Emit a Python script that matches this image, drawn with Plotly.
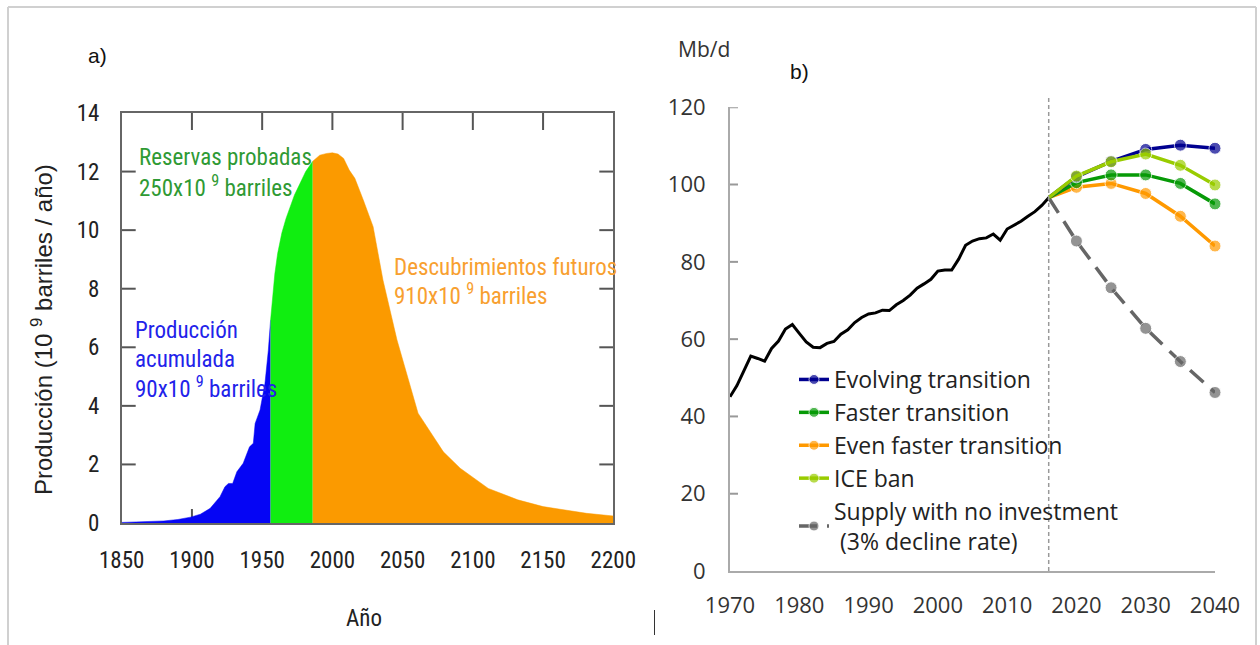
import plotly.graph_objects as go

W, H = 1260, 645

# ---------------- Panel a) data ----------------
blue_years = [1850, 1870, 1880, 1890, 1899, 1906, 1913, 1920, 1923.5, 1926, 1929, 1932,
              1936.5, 1941, 1943.7, 1945, 1948.5, 1952, 1954.4, 1956]
blue_vals = [0.02, 0.04, 0.07, 0.12, 0.2, 0.3, 0.5, 0.9, 1.24, 1.35, 1.35, 1.75,
             2.04, 2.6, 2.72, 3.4, 3.86, 4.77, 5.9, 6.93]

green_years = [1956, 1958, 1959, 1961, 1964, 1967, 1970, 1973, 1977, 1981, 1986]
green_vals = [6.93, 8.0, 8.5, 9.2, 9.9, 10.4, 10.8, 11.2, 11.6, 12.0, 12.35]

orange_years = [1986, 1991, 1996, 2000, 2004, 2008, 2012, 2016, 2022, 2029, 2036, 2046,
                2061, 2079, 2091, 2111, 2132, 2150, 2181, 2200]
orange_vals = [12.35, 12.56, 12.62, 12.64, 12.6, 12.45, 12.05, 11.77, 11.03, 10.12, 8.3,
               6.25, 3.75, 2.43, 1.87, 1.18, 0.79, 0.56, 0.33, 0.24]

a_xticks = [1850, 1900, 1950, 2000, 2050, 2100, 2150, 2200]
a_yticks = [0, 2, 4, 6, 8, 10, 12, 14]

# ---------------- Panel b) data ----------------
hist_years = list(range(1970, 2017))
hist_vals = [45.1, 48.0, 51.8, 55.6, 55.0, 54.3, 57.6, 59.5, 62.6, 63.8,
             61.5, 59.3, 57.9, 57.8, 58.9, 59.4, 61.3, 62.4, 64.3, 65.6,
             66.5, 66.8, 67.5, 67.4, 68.9, 70.0, 71.4, 73.2, 74.3, 75.5,
             77.6, 77.9, 77.9, 80.7, 84.3, 85.4, 86.0, 86.2, 87.2, 85.6,
             88.5, 89.5, 90.5, 91.8, 93.0, 94.6, 96.6]

proj_years = [2016, 2020, 2025, 2030, 2035, 2040]
evolving = [96.6, 102.0, 106.0, 109.1, 110.2, 109.4]
faster = [96.6, 100.5, 102.5, 102.5, 100.3, 95.0]
even_faster = [96.6, 99.3, 100.3, 97.7, 91.8, 84.1]
ice_ban = [96.6, 102.2, 105.9, 107.9, 105.0, 99.9]
no_invest = [96.6, 85.4, 73.3, 62.8, 54.2, 46.2]

b_xticks = [1970, 1980, 1990, 2000, 2010, 2020, 2030, 2040]
b_yticks = [0, 20, 40, 60, 80, 100, 120]
split_year = 2016


def px_x(p):
    return p / W


def px_y(p):
    return 1 - p / H


NARROW = "Liberation Sans Narrow, Arial Narrow, Roboto Condensed, sans-serif"
SANS = "Liberation Sans, Arial, sans-serif"
OPEN = "Open Sans, Noto Sans, sans-serif"

A_L, A_R, A_T, A_B = 121.7, 613.3, 113, 523
B_L, B_R, B_T, B_B = 730, 1215, 107.3, 571

fig = go.Figure()

# Panel a) filled areas
for xs, ys, col in [(blue_years, blue_vals, "#0505f5"),
                    (green_years, green_vals, "#10ee10"),
                    (orange_years, orange_vals, "#fb9a00")]:
    fig.add_trace(go.Scatter(x=xs, y=ys, mode="lines", fill="tozeroy",
                             fillcolor=col, line=dict(width=0.5, color=col),
                             showlegend=False, hoverinfo="skip",
                             xaxis="x", yaxis="y"))

# Panel b) history line
fig.add_trace(go.Scatter(x=hist_years, y=hist_vals, mode="lines",
                         line=dict(color="black", width=3),
                         showlegend=False, xaxis="x2", yaxis="y2"))

sizes = [0, 12, 12, 12, 12, 12]
series = [
    ("Supply with no investment<br> (3% decline rate)", no_invest, "#666666", "18px,10px", 5),
    ("Even faster transition", even_faster, "#ff9900", "solid", 3),
    ("Faster transition", faster, "#079a07", "solid", 2),
    ("Evolving transition", evolving, "#000090", "solid", 1),
    ("ICE ban", ice_ban, "#99cc00", "solid", 4),
]
for name, vals, col, dash, rank in series:
    fig.add_trace(go.Scatter(x=proj_years, y=vals, mode="lines+markers", name=name,
                             line=dict(color=col, width=3.5, dash=dash),
                             marker=dict(color=col, size=sizes),
                             legendrank=rank, cliponaxis=False,
                             xaxis="x2", yaxis="y2"))

axis_a = dict(showgrid=False, zeroline=False, showline=True, linecolor="#666",
              linewidth=1.5, ticks="", mirror=True, layer="below traces",
              automargin=False,
              tickfont=dict(family=NARROW, size=23, color="#222"))

fig.update_layout(
    width=W, height=H, margin=dict(l=0, r=0, t=0, b=0, pad=0, autoexpand=False),
    paper_bgcolor="white", plot_bgcolor="rgba(0,0,0,0)",
    xaxis=dict(axis_a, domain=[px_x(A_L), px_x(A_R)], range=[1850, 2200],
               tickvals=a_xticks, anchor="y", ticklabelstandoff=16),
    yaxis=dict(axis_a, domain=[px_y(A_B), px_y(A_T)], range=[0, 14],
               tickvals=a_yticks, anchor="x", ticklabelstandoff=16),
    xaxis2=dict(domain=[px_x(B_L), px_x(B_R)], range=[1970, 2040], tickvals=b_xticks,
                anchor="y2", showgrid=False, zeroline=False, showline=True,
                linecolor="#aaaaaa", linewidth=2, ticks="", ticklabelstandoff=14,
                automargin=False,
                tickfont=dict(family=OPEN, size=22, color="#333")),
    yaxis2=dict(domain=[px_y(B_B), px_y(B_T)], range=[0, 120], tickvals=b_yticks,
                anchor="x2", showgrid=False, zeroline=False, showline=True,
                linecolor="#aaaaaa", linewidth=2, ticks="", ticklabelstandoff=18,
                automargin=False,
                tickfont=dict(family=OPEN, size=22, color="#333")),
    legend=dict(x=px_x(794), y=px_y(358), xanchor="left", yanchor="top",
                bgcolor="rgba(0,0,0,0)", borderwidth=0,
                font=dict(family=OPEN, size=23, color="#222"),
                itemwidth=30, tracegroupgap=6),
    showlegend=True,
)

# tick marks of panel a) (inside, on all four sides), drawn from the tick arrays
a_w, a_h = A_R - A_L, A_B - A_T
TICK = dict(color="#555", width=2)
for t in a_xticks[1:-1]:
    fig.add_shape(type="line", xref="x", yref="y domain", x0=t, x1=t, y0=1,
                  y1=1 - 17 / a_h, line=TICK, layer="below")
    fig.add_shape(type="line", xref="x", yref="y domain", x0=t, x1=t, y0=0,
                  y1=14 / a_h, line=TICK, layer="below")
for t in a_yticks[1:-1]:
    fig.add_shape(type="line", xref="x domain", yref="y", x0=0, x1=14 / a_w, y0=t,
                  y1=t, line=TICK, layer="below")
    fig.add_shape(type="line", xref="x domain", yref="y", x0=1, x1=1 - 14 / a_w, y0=t,
                  y1=t, line=TICK, layer="below")

# tick marks of panel b) y axis (inside)
for t in b_yticks[1:]:
    fig.add_shape(type="line", xref="x2 domain", yref="y2", x0=0, x1=8 / (B_R - B_L),
                  y0=t, y1=t, line=dict(color="#999999", width=2))

# dotted split line
fig.add_shape(type="line", xref="x2", yref="paper", x0=split_year, x1=split_year,
              y0=px_y(B_B), y1=px_y(95), line=dict(color="#999", width=1.5, dash="4px,3px"))

# outer frame and cursor mark
for x0, y0, x1, y1 in [(8, 7, 1256, 7), (8, 7, 8, 645), (1256, 7, 1256, 645)]:
    fig.add_shape(type="line", xref="paper", yref="paper", x0=px_x(x0), y0=px_y(y0),
                  x1=px_x(x1), y1=px_y(y1), line=dict(color="#d0d0d0", width=2))
fig.add_shape(type="line", xref="paper", yref="paper", x0=px_x(654.5), x1=px_x(654.5),
              y0=px_y(610), y1=px_y(635), line=dict(color="#333", width=1))


def note(text, x, y, size, color, family, xanchor="left", angle=0):
    fig.add_annotation(text=text, x=px_x(x), y=px_y(y), xref="paper", yref="paper",
                       xanchor=xanchor, yanchor="middle", showarrow=False,
                       textangle=angle, font=dict(size=size, color=color, family=family))


note("a)", 86, 55, 21, "#111", SANS)
note("b)", 788, 71, 21, "#111", SANS)
note("Mb/d", 676, 49, 21, "#333", OPEN)
note("Año", 364, 618, 23, "#222", NARROW, xanchor="center")
note("Producción (10 <sup>9</sup> barriles / año)", 42, 330, 24, "#222", SANS,
     xanchor="center", angle=-90)

GREEN_T, BLUE_T, ORANGE_T = "#2f9a34", "#2222ea", "#f8a030"
note("Reservas probadas", 137, 158, 23, GREEN_T, NARROW)
note("250x10 <sup>9</sup> barriles", 137, 186, 23, GREEN_T, NARROW)
note("Producción", 133, 330, 23, BLUE_T, NARROW)
note("acumulada", 133, 359, 23, BLUE_T, NARROW)
note("90x10 <sup>9</sup> barriles", 133, 387, 23, BLUE_T, NARROW)
note("Descubrimientos futuros", 392, 267, 23, ORANGE_T, NARROW)
note("910x10 <sup>9</sup> barriles", 392, 295, 23, ORANGE_T, NARROW)

fig.write_html("out.html")
